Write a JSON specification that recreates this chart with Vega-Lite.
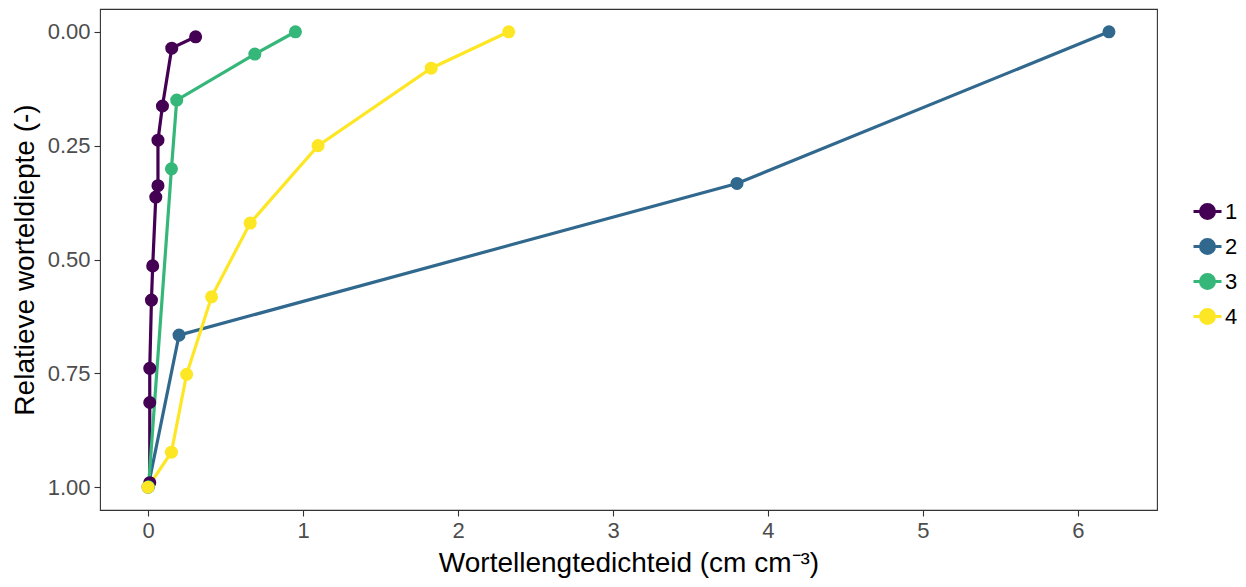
{
  "$schema": "https://vega.github.io/schema/vega-lite/v6.json",
  "width": 1057,
  "height": 501,
  "autosize": {"type": "none"},
  "padding": {"left": 100, "top": 9, "right": 89, "bottom": 77},
  "background": "white",
  "config": {
    "font": "Liberation Sans",
    "view": {"stroke": "#333333", "strokeWidth": 1.1},
    "axis": {
      "domain": false,
      "grid": false,
      "tickColor": "#333333",
      "tickSize": 6,
      "tickWidth": 1.1,
      "labelColor": "#4D4D4D",
      "labelFontSize": 22,
      "labelFont": "Liberation Sans",
      "titleFont": "Liberation Sans",
      "titleFontSize": 28,
      "titleFontWeight": "normal",
      "titleColor": "#000000"
    }
  },
  "data": {
    "values": [
      {"x": 0.307, "y": 0.011, "g": "1"},
      {"x": 0.153, "y": 0.036, "g": "1"},
      {"x": 0.093, "y": 0.163, "g": "1"},
      {"x": 0.064, "y": 0.238, "g": "1"},
      {"x": 0.064, "y": 0.338, "g": "1"},
      {"x": 0.050, "y": 0.363, "g": "1"},
      {"x": 0.030, "y": 0.514, "g": "1"},
      {"x": 0.022, "y": 0.589, "g": "1"},
      {"x": 0.011, "y": 0.739, "g": "1"},
      {"x": 0.011, "y": 0.814, "g": "1"},
      {"x": 0.011, "y": 0.990, "g": "1"},
      {"x": 6.2, "y": 0.0, "g": "2"},
      {"x": 3.8, "y": 0.333, "g": "2"},
      {"x": 0.2, "y": 0.666, "g": "2"},
      {"x": 0.0, "y": 1.0, "g": "2"},
      {"x": 0.951, "y": 0.0, "g": "3"},
      {"x": 0.689, "y": 0.049, "g": "3"},
      {"x": 0.185, "y": 0.150, "g": "3"},
      {"x": 0.151, "y": 0.301, "g": "3"},
      {"x": 0.003, "y": 0.999, "g": "3"},
      {"x": 2.327, "y": 0.0, "g": "4"},
      {"x": 1.827, "y": 0.080, "g": "4"},
      {"x": 1.097, "y": 0.250, "g": "4"},
      {"x": 0.659, "y": 0.420, "g": "4"},
      {"x": 0.41, "y": 0.582, "g": "4"},
      {"x": 0.249, "y": 0.752, "g": "4"},
      {"x": 0.151, "y": 0.923, "g": "4"},
      {"x": 0.0, "y": 1.0, "g": "4"}
    ]
  },
  "encoding": {
    "x": {
      "field": "x",
      "type": "quantitative",
      "scale": {"domain": [-0.31, 6.51], "nice": false, "zero": false},
      "axis": {"values": [0, 1, 2, 3, 4, 5, 6], "format": "d", "labelPadding": 4, "titlePadding": 8, "title": "Wortellengtedichteid (cm cm⁻³)"}
    },
    "y": {
      "field": "y",
      "type": "quantitative",
      "scale": {"domain": [-0.05, 1.05], "reverse": true, "nice": false, "zero": false},
      "axis": {"values": [0, 0.25, 0.5, 0.75, 1], "format": ".2f", "labelPadding": 4, "titlePadding": 8, "title": "Relatieve worteldiepte (-)"}
    },
    "color": {
      "field": "g",
      "type": "nominal",
      "scale": {"domain": ["1", "2", "3", "4"], "range": ["#440154", "#31688E", "#35B779", "#FDE725"]},
      "legend": {
        "title": null,
        "orient": "none",
        "legendX": 1092,
        "legendY": 187,
        "symbolType": "M-1,0H1M-0.5,0A0.5,0.5 0 1,0 0.5,0A0.5,0.5 0 1,0 -0.5,0",
        "symbolSize": 784,
        "symbolStrokeWidth": 3,
        "symbolOpacity": 1,
        "labelFontSize": 22,
        "labelColor": "#000000",
        "labelOffset": 2,
        "rowPadding": 6,
        "encode": {
          "symbols": {"update": {"stroke": {"scale": "color", "field": "value"}, "fill": {"scale": "color", "field": "value"}}}
        }
      }
    }
  },
  "layer": [
    {
      "mark": {"type": "line", "strokeWidth": 3.2},
      "encoding": {"order": {"field": "y", "type": "quantitative"}}
    },
    {
      "mark": {"type": "point", "filled": true, "opacity": 1, "size": 170}
    }
  ]
}
